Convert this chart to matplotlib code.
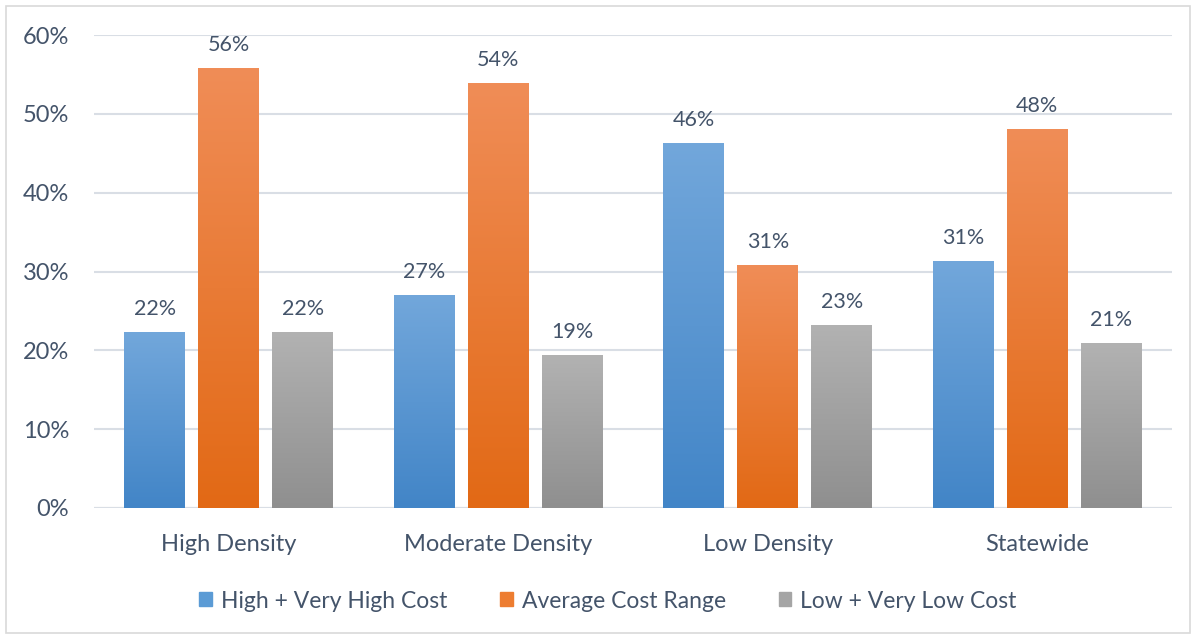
import matplotlib
matplotlib.use("Agg")
import matplotlib.pyplot as plt
import numpy as np
from matplotlib.colors import LinearSegmentedColormap
from matplotlib.patches import Rectangle
from matplotlib.ticker import PercentFormatter

categories = ["High Density", "Moderate Density", "Low Density", "Statewide"]
series_names = ["High + Very High Cost", "Average Cost Range", "Low + Very Low Cost"]
high_cost = [22.3, 27.0, 46.2, 31.3]
avg_cost = [55.7, 53.9, 30.8, 48.0]
low_cost = [22.3, 19.3, 23.1, 20.9]
yticks = [0, 10, 20, 30, 40, 50, 60]

plt.rcParams['font.family'] = ['Lato', 'DejaVu Sans']
text_color = "#44546A"
grads = [("#72A7DB", "#4285C7"), ("#F08D57", "#E26915"), ("#B2B2B2", "#8F8F8F")]
mids = ["#5B9BD5", "#ED7D31", "#A5A5A5"]

fig = plt.figure(figsize=(11.94, 6.37), dpi=100)
W, H = 1194, 637
ax = fig.add_axes([94 / W, 1 - 508 / H, (1172 - 94) / W, (508 - 35) / H])

x = np.arange(len(categories))
width = 0.226
offs = [-0.275, 0, 0.275]
all_series = [high_cost, avg_cost, low_cost]
ax.set_xlim(-0.5, len(categories) - 0.5)
ax.set_ylim(0, 60)

for s, (vals, off, (ctop, cbot), name, mc) in enumerate(zip(all_series, offs, grads, series_names, mids)):
    bars = ax.bar(x + off, vals, width, color="none", zorder=3, label=name)
    cmap = LinearSegmentedColormap.from_list("g%d" % s, [cbot, ctop])
    for b, v in zip(bars, vals):
        x0 = b.get_x()
        grad = np.linspace(0, 1, 256).reshape(-1, 1)
        ax.imshow(grad, cmap=cmap, origin="lower", aspect="auto",
                  extent=[x0, x0 + b.get_width(), 0, b.get_height()], zorder=3,
                  interpolation="bilinear")
        ax.text(b.get_x() + b.get_width() / 2, v + 1.7, "%d%%" % round(v),
                ha="center", va="bottom", fontsize=15.5, color=text_color, zorder=4)

ax.set_xlim(-0.5, len(categories) - 0.5)
ax.set_ylim(0, 60)
ax.set_aspect("auto")
ax.set_yticks(yticks)
ax.yaxis.set_major_formatter(PercentFormatter(decimals=0))
ax.set_xticks(x)
ax.set_xticklabels(categories)
ax.tick_params(axis="both", length=0, colors=text_color, labelsize=17)
ax.tick_params(axis="x", pad=19)
ax.tick_params(axis="y", pad=18)
ax.grid(axis="y", color="#D9DEE5", linewidth=1.5, zorder=0)
ax.set_axisbelow(True)
for sp in ax.spines.values():
    sp.set_visible(False)
ax.axhline(0, color="#D9DEE5", linewidth=1.5, zorder=2)

handles = [Rectangle((0, 0), 1, 1, color=c) for c in mids]
fig.legend(handles, series_names, loc="center", bbox_to_anchor=(0.5 + 11 / W, 1 - 601 / H),
           ncol=3, frameon=False, fontsize=16.5, labelcolor=text_color,
           handlelength=0.55, handleheight=0.55, handletextpad=0.4, columnspacing=2.3)

fig.patches.append(Rectangle((6 / W, 1 - 633 / H), (1190 - 6) / W, (633 - 6) / H,
                             transform=fig.transFigure, fill=False,
                             edgecolor="#D9D9D9", linewidth=1.2))

fig.savefig("out.png", dpi=100)
